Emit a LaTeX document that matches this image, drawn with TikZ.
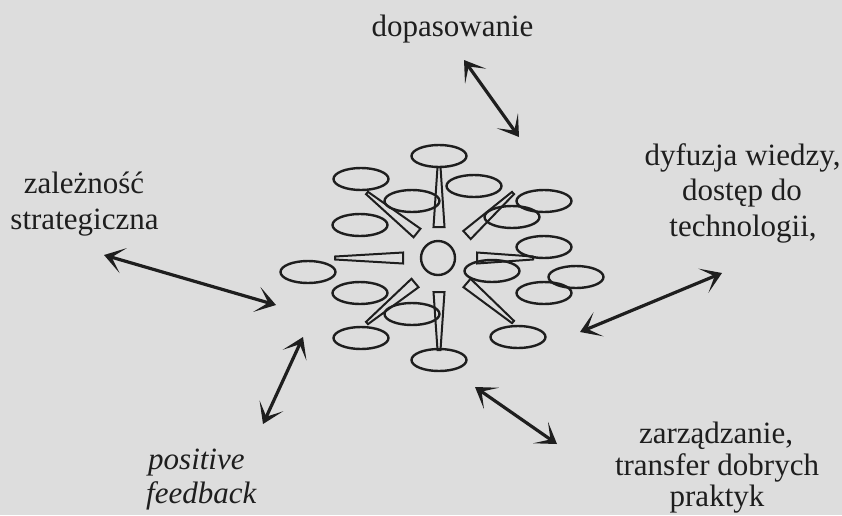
\documentclass[tikz,border=0pt]{standalone}
\usepackage{fontspec}
\setmainfont{Liberation Serif}
\usetikzlibrary{shapes.geometric,arrows.meta,calc}
\definecolor{paper}{RGB}{221,221,221}
\definecolor{ink}{RGB}{30,30,30}
\begin{document}
\begin{tikzpicture}[x=1pt,y=-1pt,
  oval/.style={draw=ink,line width=2.4pt,ellipse,minimum width=55pt,minimum height=22pt,inner sep=0pt},
  hub/.style={draw=ink,line width=2.4pt,circle,minimum size=34pt,inner sep=0pt},
  lbl/.style={font=\fontsize{31}{34}\selectfont,text=ink,inner sep=0pt,anchor=base},
  rel/.style={draw=ink,line width=3.2pt,{Stealth[length=20pt,width=26pt,inset=12pt]}-{Stealth[length=20pt,width=26pt,inset=12pt]}},
  spokeline/.style={draw=ink,line width=2pt,line join=miter}]
\fill[paper] (0,0) rectangle (842,515);
\useasboundingbox (0,0) rectangle (842,515);

% hub
\node[hub] (hub) at (438,258) {};

% ovals
\foreach \n/\x/\y in {1/439/156, 2/361/179, 3/412/201, 4/474/186, 5/544/201,
  6/512/217, 7/360/225, 8/544/247, 9/308/272, 10/492/271, 11/576/277,
  12/544/293, 13/360/293, 14/412/314, 15/361/338, 16/518/337, 17/439/360}
  \node[oval] (e\n) at (\x,\y) {};

% spokes (tapered)
\foreach \n/\ax/\ay/\bx/\by in {1/439/227/439/167, 2/439/292/439/350,
  3/403/258/335/258, 4/477/258/533/258, 5/417/233/367/193, 6/467/235/513/193,
  7/415/283/367/323, 8/467/283/513/322}{
  \coordinate (si\n) at (\ax,\ay);
  \coordinate (so\n) at (\bx,\by);
  \draw[spokeline] ($(si\n)!5.5pt!90:(so\n)$) -- ($(so\n)!1.5pt!-90:(si\n)$)
     -- ($(so\n)!1.5pt!90:(si\n)$) -- ($(si\n)!5.5pt!-90:(so\n)$) -- cycle;
}

% labels
\node[lbl] (t1) at (452.5,36) {dopasowanie};
\node[lbl] (z1) at (84,193) {zależność};
\node[lbl] (z2) at (84.5,229) {strategiczna};
\node[lbl] (d1) at (742.5,165) {dyfuzja wiedzy,};
\node[lbl] (d2) at (742,200) {dostęp do};
\node[lbl] (d3) at (743,236) {technologii,};
\node[lbl] (m1) at (716,443) {zarządzanie,};
\node[lbl] (m2) at (717,475) {transfer dobrych};
\node[lbl] (m3) at (717,506) {praktyk};
\node[lbl,anchor=base west,font=\fontsize{31}{34}\selectfont\itshape] (p1) at (148,469) {positive};
\node[lbl,anchor=base west,font=\fontsize{31}{34}\selectfont\itshape] (p2) at (146,503) {feedback};

% arrow ends
\coordinate (a1) at (464,60);  \coordinate (b1) at (519,137);
\coordinate (a2) at (104,255); \coordinate (b2) at (276,305);
\coordinate (a3) at (263,424); \coordinate (b3) at (303,337);
\coordinate (a4) at (722,273); \coordinate (b4) at (580,332);
\coordinate (a5) at (557,444); \coordinate (b5) at (475,387);
\foreach \i in {1,...,5} \draw[rel] (a\i) -- (b\i);
\end{tikzpicture}
\end{document}
